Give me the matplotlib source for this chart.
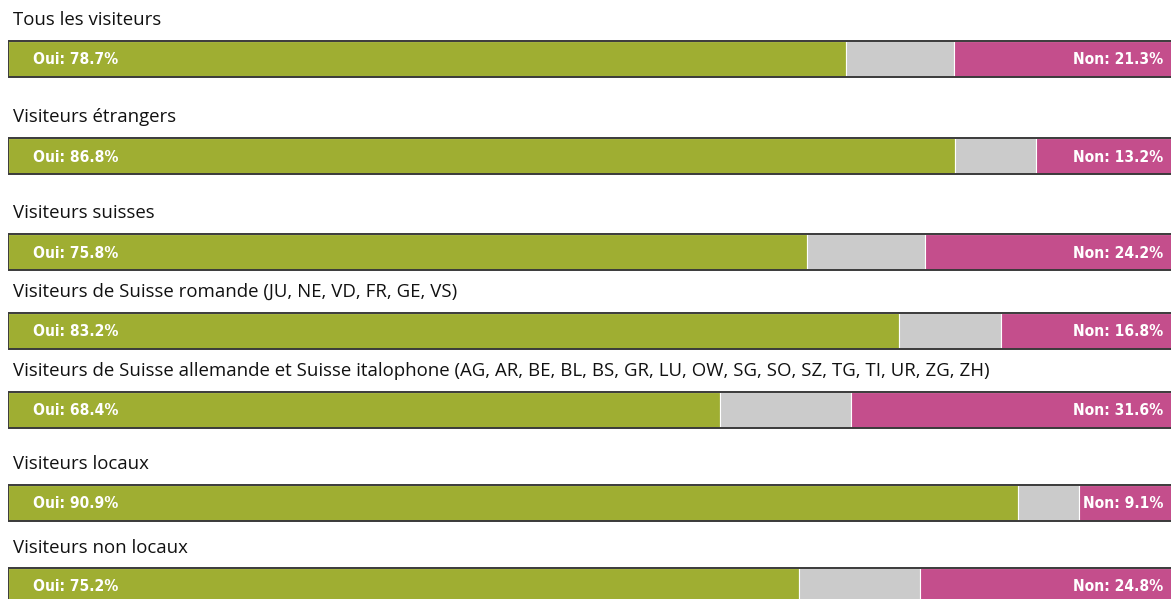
import matplotlib
matplotlib.use("Agg")
import matplotlib.pyplot as plt
from matplotlib.patches import Rectangle

# --- data (share of each answer in % of all respondents) ---
groupes = ["Tous les visiteurs",
           "Visiteurs étrangers",
           "Visiteurs suisses",
           "Visiteurs de Suisse romande (JU, NE, VD, FR, GE, VS)",
           "Visiteurs de Suisse allemande et Suisse italophone (AG, AR, BE, BL, BS, GR, LU, OW, SG, SO, SZ, TG, TI, UR, ZG, ZH)",
           "Visiteurs locaux",
           "Visiteurs non locaux"]
part_oui  = [71.5, 80.8, 68.2, 76.0, 60.7, 86.2, 67.5]
part_sans = [9.2, 6.9, 10.0, 8.7, 11.2, 5.2, 10.3]
part_non  = [19.3, 12.3, 21.8, 15.3, 28.1, 8.6, 22.2]
label_oui = [78.7, 86.8, 75.8, 83.2, 68.4, 90.9, 75.2]
label_non = [21.3, 13.2, 24.2, 16.8, 31.6, 9.1, 24.8]

# --- layout (pixel rows, figure is 1171 x 599) ---
W, H = 1171, 599
bar_top = [41, 138.3, 234.3, 312.7, 391.7, 485, 567.7]
bar_h = 36
title_y = [20, 117, 213, 292, 371, 464, 548]
GREEN, GREY, PINK, EDGE = "#9FAE32", "#CBCBCB", "#C44E8C", "#3A3A3A"

fig = plt.figure(figsize=(W / 100, H / 100), dpi=100)
left = 8.3 / W
# bars actually run past the right edge of the picture (total = 100 %)
ax = fig.add_axes([left, 0, 1 - left, 1])
ax.set_xlim(0, 100 * (W - 8.3) / 1171.7)
ax.set_ylim(H, 0)
ax.axis("off")

title_font = dict(family=["Open Sans", "DejaVu Sans"], fontsize=13.4, color="#111111")
lab_font = dict(family=["DejaVu Sans"], fontstretch="condensed", fontsize=11.2,
                fontweight="bold", color="white")

for i, g in enumerate(groupes):
    y = bar_top[i] + bar_h / 2
    ax.barh(y, part_oui[i], height=bar_h, color=GREEN, edgecolor="white", linewidth=0.8)
    ax.barh(y, part_sans[i], left=part_oui[i], height=bar_h, color=GREY,
            edgecolor="white", linewidth=0.8)
    ax.barh(y, part_non[i], left=part_oui[i] + part_sans[i], height=bar_h, color=PINK,
            edgecolor="white", linewidth=0.8)
    ax.add_patch(Rectangle((0, bar_top[i]), 100, bar_h, fill=False,
                           edgecolor=EDGE, linewidth=1.4, zorder=3))
    ax.text(0.4, title_y[i], g, ha="left", va="center", **title_font)
    ax.text(2.1, y + 1, f"Oui: {label_oui[i]}%", ha="left", va="center", **lab_font)
    ax.text(98.6, y + 1, f"Non: {label_non[i]}%", ha="right", va="center", **lab_font)

fig.savefig("out.png", dpi=100)
